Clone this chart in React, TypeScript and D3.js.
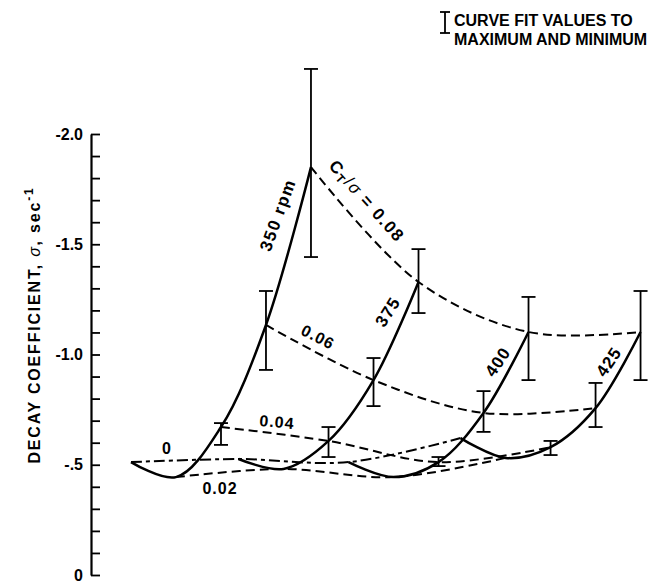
import React, { useEffect, useRef } from "react";
import * as d3 from "d3";

// ---- data ----
const rpms = [350, 375, 400, 425];
const ctValues = [0, 0.02, 0.04, 0.06, 0.08];
// carpet shift (in C_T/sigma units) of each rpm curve along the abscissa
const carpetShift = [0, 0.0478, 0.0967, 0.1465];
const sigma350 = [-0.512, -0.444, -0.671, -1.134, -1.85];
const sigma375 = [-0.526, -0.481, -0.608, -0.884, -1.329];
const sigma400 = [-0.512, -0.444, -0.512, -0.735, -1.102];
const sigma425 = [-0.621, -0.531, -0.58, -0.757, -1.102];
const sigmaByRpm = [sigma350, sigma375, sigma400, sigma425];

// error bars: curve fit values to maximum and minimum
const errRpm = [350, 350, 350, 375, 375, 375, 400, 400, 400, 425, 425, 425];
const errCt = [0.04, 0.06, 0.08, 0.04, 0.06, 0.08, 0.04, 0.06, 0.08, 0.04, 0.06, 0.08];
const errMax = [-0.689, -1.288, -2.295, -0.671, -0.984, -1.478, -0.535, -0.834, -1.261, -0.608, -0.871, -1.288];
const errMin = [-0.59, -0.93, -1.442, -0.535, -0.766, -1.188, -0.494, -0.649, -0.884, -0.544, -0.671, -0.884];

const yMajorTicks = [0, -0.5, -1.0, -1.5, -2.0];
const yMajorLabels = ["0", "-.5", "-1.0", "-1.5", "-2.0"];
const yMinorTicks = d3.range(0, 21).map((i) => -i / 10);

const W = 654;
const H = 587;
const FONT = "'Liberation Sans', Arial, Helvetica, sans-serif";

export default function App() {
  const ref = useRef<SVGSVGElement>(null);

  useEffect(() => {
    const svg = d3.select(ref.current);
    svg.selectAll("*").remove();

    const y = d3.scaleLinear().domain([0, -2.0]).range([575, 134]);
    const x = d3.scaleLinear().domain([0, 0.2267]).range([131, 641]);
    const px = (rpm: number, ct: number) => x(ct + carpetShift[rpms.indexOf(rpm)]);

    // axis
    const axisG = svg.append("g").attr("transform", `translate(91,0)`);
    axisG
      .call(
        d3
          .axisLeft(y)
          .tickValues(yMinorTicks)
          .tickSizeInner(-9)
          .tickSizeOuter(0)
          .tickFormat(() => "")
      )
      .call((g) => g.selectAll("line").attr("stroke", "#000").attr("stroke-width", 1.8))
      .call((g) => g.select(".domain").attr("stroke", "#000").attr("stroke-width", 2.2));
    const labG = svg.append("g").attr("transform", `translate(91,0)`);
    labG
      .call(
        d3
          .axisLeft(y)
          .tickValues(yMajorTicks)
          .tickSize(0)
          .tickPadding(8)
          .tickFormat((d, i) => yMajorLabels[i])
      )
      .call((g) => g.select(".domain").remove())
      .call((g) =>
        g
          .selectAll("text")
          .attr("font-family", FONT)
          .attr("font-size", 16)
          .attr("font-weight", "bold")
          .attr("fill", "#000")
      );

    // y-axis title
    const title = svg
      .append("text")
      .attr("transform", `translate(40,325) rotate(-90)`)
      .attr("text-anchor", "middle")
      .attr("font-family", FONT)
      .attr("font-size", 16)
      .attr("font-weight", "bold")
      .attr("letter-spacing", 1.8)
      .attr("fill", "#000");
    title.append("tspan").text("DECAY COEFFICIENT, ");
    title.append("tspan").attr("font-style", "italic").attr("font-weight", "normal").text("σ");
    title.append("tspan").text(", sec");
    title.append("tspan").attr("dy", -7).attr("font-size", 12).text("-1");

    const curve = d3
      .line<[number, number]>()
      .x((d) => d[0])
      .y((d) => d[1])
      .curve(d3.curveCatmullRom.alpha(0.5));

    // constant C_T/sigma lines (dashed)
    ctValues.forEach((ct, ci) => {
      const pts: [number, number][] = rpms.map((r, ri) => [px(r, ct), y(sigmaByRpm[ri][ci])]);
      svg
        .append("path")
        .attr("d", curve(pts))
        .attr("fill", "none")
        .attr("stroke", "#000")
        .attr("stroke-width", 2)
        .attr("stroke-dasharray", ct === 0 ? "11,4,4,4" : "9,5");
    });

    // constant rpm lines (solid)
    rpms.forEach((r, ri) => {
      const pts: [number, number][] = ctValues.map((ct, ci) => [px(r, ct), y(sigmaByRpm[ri][ci])]);
      svg
        .append("path")
        .attr("d", curve(pts))
        .attr("fill", "none")
        .attr("stroke", "#000")
        .attr("stroke-width", 2.5);
    });

    // error bars
    const cap = 7;
    errRpm.forEach((r, i) => {
      const cx = px(r, errCt[i]);
      const y1 = y(errMax[i]);
      const y2 = y(errMin[i]);
      const g = svg.append("g").attr("stroke", "#000").attr("stroke-width", 1.8);
      g.append("line").attr("x1", cx).attr("x2", cx).attr("y1", y1).attr("y2", y2);
      g.append("line").attr("x1", cx - cap).attr("x2", cx + cap).attr("y1", y1).attr("y2", y1);
      g.append("line").attr("x1", cx - cap).attr("x2", cx + cap).attr("y1", y2).attr("y2", y2);
    });

    // annotations
    const ann = (t: string, ax: number, ay: number, rot: number, size = 16, ls = 1) =>
      svg
        .append("text")
        .attr("transform", `translate(${ax},${ay}) rotate(${rot})`)
        .attr("text-anchor", "middle")
        .attr("dominant-baseline", "central")
        .attr("font-family", FONT)
        .attr("font-size", size)
        .attr("font-weight", "bold")
        .attr("letter-spacing", ls)
        .attr("fill", "#000")
        .text(t);

    ann("350 rpm", 278, 215, -70, 17, 1.5);
    ann("375", 388, 312, -58, 17, 1);
    ann("400", 498, 362, -56, 17, 1);
    ann("425", 609, 362, -56, 17, 1);
    ann("0.06", 318, 337, 27, 16, 1);
    ann("0.04", 277, 422, 5, 16, 1);
    ann("0", 167, 448, 0, 16, 1);
    ann("0.02", 220, 488, 0, 16, 1);

    const ctl = svg
      .append("text")
      .attr("transform", `translate(367,201) rotate(48)`)
      .attr("text-anchor", "middle")
      .attr("dominant-baseline", "central")
      .attr("font-family", FONT)
      .attr("font-size", 17)
      .attr("font-weight", "bold")
      .attr("letter-spacing", 1.5)
      .attr("fill", "#000");
    ctl.append("tspan").text("C");
    ctl.append("tspan").attr("dy", 5).attr("font-size", 12).text("T");
    ctl.append("tspan").attr("dy", -5).attr("font-weight", "normal").text("/");
    ctl.append("tspan").attr("font-style", "italic").attr("font-weight", "normal").text("σ");
    ctl.append("tspan").text(" = 0.08");

    // legend
    const lg = svg.append("g").attr("stroke", "#000").attr("stroke-width", 1.8);
    lg.append("line").attr("x1", 445).attr("x2", 445).attr("y1", 12).attr("y2", 33);
    lg.append("line").attr("x1", 440).attr("x2", 450).attr("y1", 12).attr("y2", 12);
    lg.append("line").attr("x1", 440).attr("x2", 450).attr("y1", 33).attr("y2", 33);
    const legText = ["CURVE FIT VALUES TO", "MAXIMUM AND MINIMUM"];
    legText.forEach((t, i) =>
      svg
        .append("text")
        .attr("x", 454)
        .attr("y", 26 + i * 19)
        .attr("font-family", FONT)
        .attr("font-size", 16)
        .attr("font-weight", "bold")
        .attr("letter-spacing", 0)
        .attr("fill", "#000")
        .text(t)
    );
  }, []);

  return (
    <svg
      ref={ref}
      width={W}
      height={H}
      style={{ position: "absolute", left: 0, top: 0, background: "#fff" }}
    />
  );
}
